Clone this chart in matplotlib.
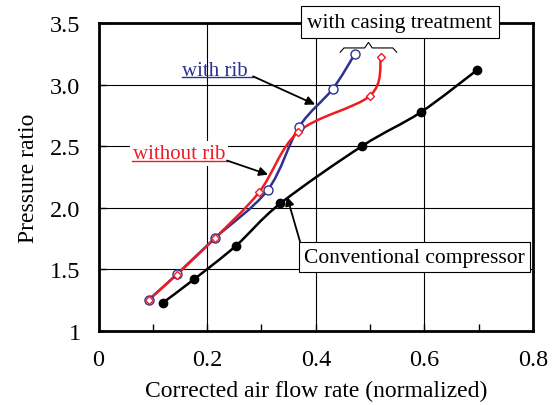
import numpy as np
import matplotlib
matplotlib.use("Agg")
import matplotlib.pyplot as plt
from matplotlib.path import Path
from matplotlib.patches import PathPatch

# data
conv_x = [0.118, 0.176, 0.253, 0.335, 0.486, 0.593, 0.697]
conv_y = [1.226, 1.419, 1.691, 2.036, 2.504, 2.776, 3.12]

rib_x = [0.093, 0.145, 0.2145, 0.3115, 0.369, 0.431, 0.472]
rib_y = [1.253, 1.462, 1.754, 2.145, 2.656, 2.966, 3.251]

norib_x = [0.0924, 0.144, 0.2145, 0.296, 0.368, 0.500, 0.520]
norib_y = [1.253, 1.457, 1.754, 2.129, 2.618, 2.912, 3.224]

xticks = [0, 0.2, 0.4, 0.6, 0.8]
yticks = [1, 1.5, 2, 2.5, 3, 3.5]
ytick_labels = ["1", "1.5", "2.0", "2.5", "3.0", "3.5"]

BLUE = "#2e3192"
RED = "#ee1c25"

plt.rcParams["font.family"] = ["Liberation Serif", "DejaVu Serif"]


def smooth_path(xs, ys):
    # catmull-rom through the points, drawn as cubic bezier segments
    pts = np.column_stack([xs, ys])
    verts = [pts[0]]
    codes = [Path.MOVETO]
    n = len(pts)
    for i in range(n - 1):
        p0 = pts[i - 1] if i > 0 else pts[i]
        p1 = pts[i]
        p2 = pts[i + 1]
        p3 = pts[i + 2] if i + 2 < n else pts[i + 1]
        c1 = p1 + (p2 - p0) / 6.0
        c2 = p2 - (p3 - p1) / 6.0
        verts += [c1, c2, p2]
        codes += [Path.CURVE4] * 3
    return Path(verts, codes)


fig = plt.figure(figsize=(5.54, 4.06), dpi=100)
ax = fig.add_axes([0.178, 0.183, 0.784, 0.757])

for xs, ys, col in [(conv_x, conv_y, "black"), (rib_x, rib_y, BLUE), (norib_x, norib_y, RED)]:
    ax.add_patch(PathPatch(smooth_path(xs, ys), fc="none", ec=col, lw=1.8, zorder=3))

ax.plot(conv_x, conv_y, "o", color="black", ms=6, zorder=4)
ax.plot(rib_x, rib_y, "o", mfc="white", mec=BLUE, mew=1.0, ms=6.5, zorder=4)
ax.plot(norib_x, norib_y, "D", mfc="white", mec=RED, mew=1.0, ms=4.5, zorder=5)

ax.set_xlim(0, 0.8)
ax.set_ylim(1, 3.5)
ax.set_xticks(xticks)
ax.set_xticklabels([f"{v:g}" for v in xticks])
ax.set_xticks(np.arange(0.1, 0.8, 0.1), minor=True)
ax.set_yticks(yticks)
ax.set_yticklabels(ytick_labels)
ax.tick_params(axis="both", which="both", direction="in", length=5, width=1,
               labelsize=17.5, pad=13)
ax.grid(True, which="major", color="black", lw=0.8)
for s in ax.spines.values():
    s.set_linewidth(2)

ax.set_xlabel("Corrected air flow rate (normalized)", fontsize=17, labelpad=7)
ax.set_ylabel("Pressure ratio", fontsize=17, labelpad=8)

# labels and arrows
arrow = dict(arrowstyle="-|>", color="black", lw=1.3, mutation_scale=13, shrinkA=0, shrinkB=0)

ax.text(0.2145, 3.118, "with rib", color=BLUE, fontsize=15, ha="center", va="center", zorder=6)
ax.plot([0.154, 0.2845], [3.061, 3.061], color=BLUE, lw=1, zorder=6)
ax.annotate("", xy=(0.3987, 2.84), xytext=(0.2845, 3.069), arrowprops=arrow, zorder=6)

ax.text(0.1482, 2.44, "without rib", color=RED, fontsize=15, ha="center", va="center", zorder=6,
        bbox=dict(fc="white", ec="none", boxstyle="square,pad=0.15"))
ax.plot([0.0617, 0.2366], [2.384, 2.384], color=RED, lw=1, zorder=6)
ax.annotate("", xy=(0.3121, 2.27), xytext=(0.2366, 2.384), arrowprops=arrow, zorder=6)

ax.text(0.582, 1.597, "Conventional compressor", fontsize=15.5, ha="center", va="center", zorder=6,
        bbox=dict(fc="white", ec="black", lw=0.8, boxstyle="square,pad=0.25"))
ax.annotate("", xy=(0.347, 2.091), xytext=(0.371, 1.724), arrowprops=arrow, zorder=6)

ax.text(0.555, 3.51, "with casing treatment", fontsize=15.5, ha="center", va="center", zorder=6,
        clip_on=False, bbox=dict(fc="white", ec="black", lw=0.8, boxstyle="square,pad=0.3"))

# curly brace under the box
bx = [0.445, 0.452, 0.49, 0.497, 0.504, 0.542, 0.549]
by = [3.265, 3.30, 3.30, 3.345, 3.30, 3.30, 3.265]
ax.plot(bx, by, color="black", lw=0.8, zorder=6)

fig.savefig("out.png", dpi=100)
